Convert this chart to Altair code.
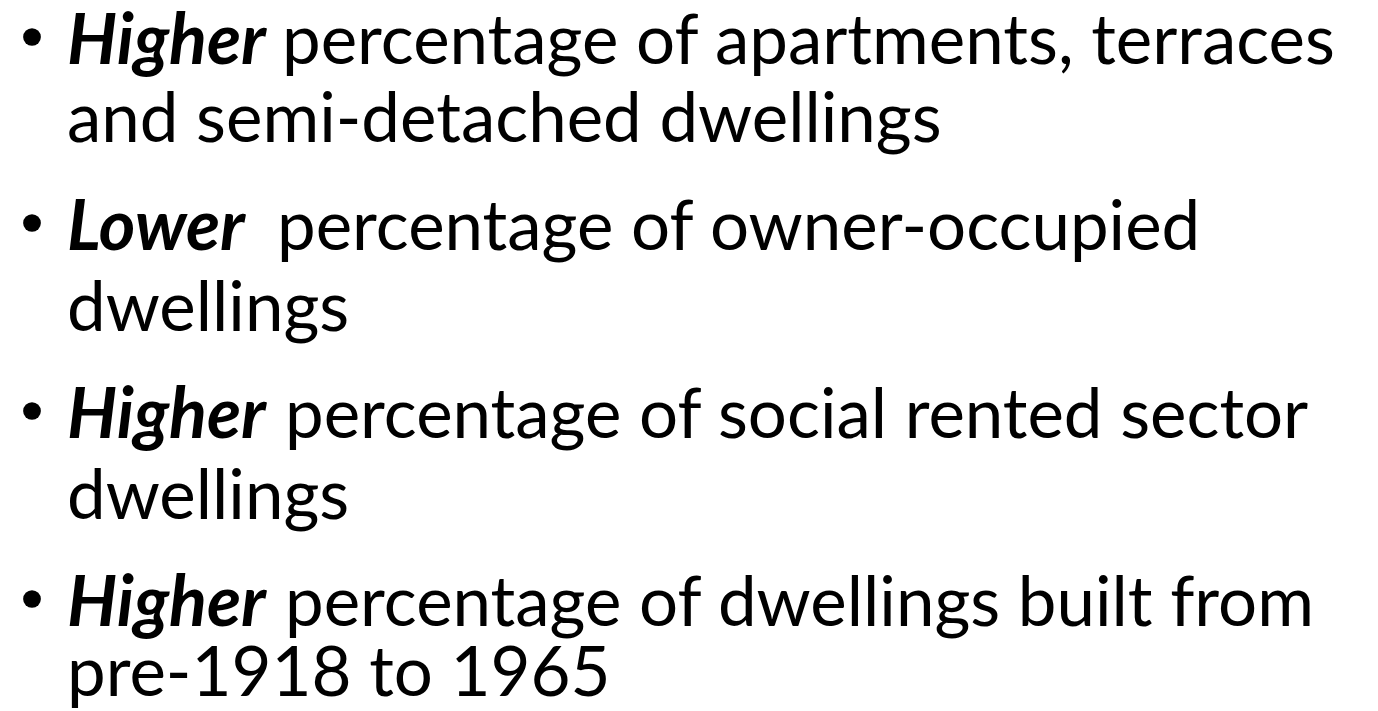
import altair as alt
import pandas as pd

# ---- slide content ----
lead_words = ["Higher", "Lower", "Higher", "Higher"]
first_rest = [
    "percentage of apartments, terraces",
    "percentage of owner-occupied",
    "percentage of social rented sector",
    "percentage of dwellings built from",
]
second_lines = [
    "and semi-detached dwellings",
    "dwellings",
    "dwellings",
    "pre-1918 to 1965",
]

# ---- layout (page pixel coordinates) ----
first_baseline = [60, 246, 434, 622]
second_baseline = [138, 327, 515, 692]
bullet_x = 32
bullet_rise = 27
lead_x = 67
rest_x = [282, 277, 285, 285]
indent_x = 67

FONT = "Lato"
FS = 69
FS_LEAD = 70
W, H = 1362, 690

bullets = pd.DataFrame({"x": [bullet_x] * 4, "y": [b - bullet_rise for b in first_baseline]})
leads = pd.DataFrame({"x": [lead_x] * 4, "y": first_baseline, "t": lead_words})
rest = pd.DataFrame({
    "x": rest_x + [indent_x] * 4,
    "y": first_baseline + second_baseline,
    "t": first_rest + second_lines,
})

xs = alt.Scale(domain=[8, 8 + W], nice=False, zero=False)
ys = alt.Scale(domain=[8, 8 + H], nice=False, zero=False, reverse=True)

def enc(ch, with_text=True):
    e = dict(
        x=alt.X("x:Q", scale=xs, axis=None),
        y=alt.Y("y:Q", scale=ys, axis=None),
    )
    if with_text:
        e["text"] = alt.Text("t:N")
    return ch.encode(**e)

dots = enc(alt.Chart(bullets).mark_circle(size=314, color="black", opacity=1), with_text=False)
lead_txt = enc(alt.Chart(leads).mark_text(
    align="left", baseline="alphabetic", font=FONT, fontSize=FS_LEAD,
    fontWeight="bold", fontStyle="italic", color="black"))
rest_txt = enc(alt.Chart(rest).mark_text(
    align="left", baseline="alphabetic", font=FONT, fontSize=FS, color="black"))

chart = alt.layer(dots, lead_txt, rest_txt).properties(
    width=W, height=H, padding=0, background="white"
).configure_view(stroke=None)

chart.save("out.html", embed_options={"renderer": "svg", "actions": False})
